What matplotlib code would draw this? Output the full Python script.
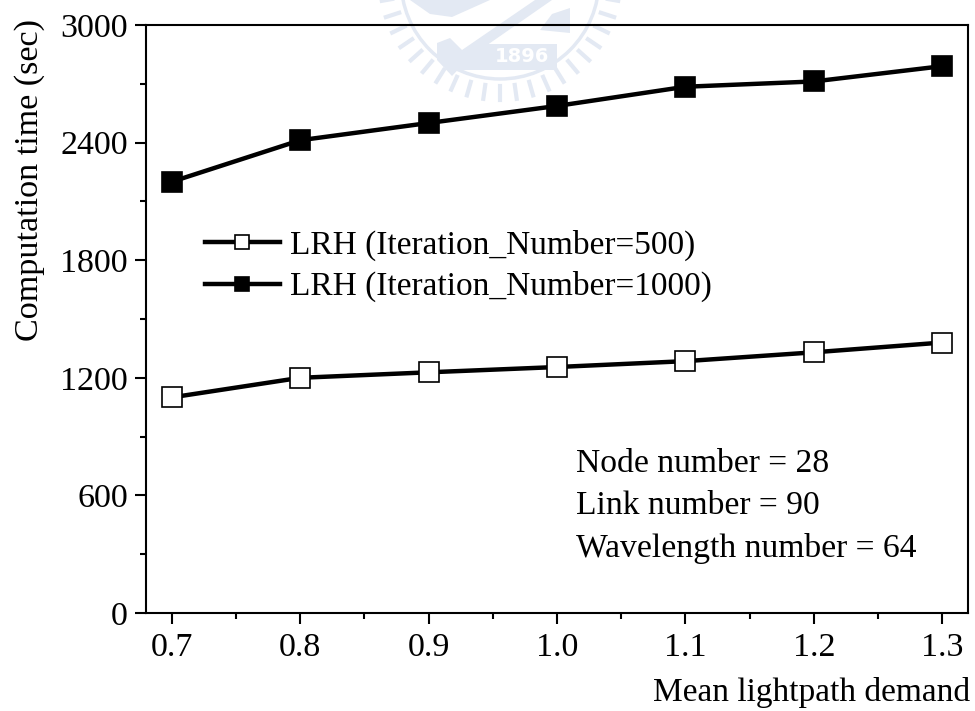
import math
import matplotlib
matplotlib.use('Agg')
import matplotlib.pyplot as plt
from matplotlib.patches import Circle, Polygon
from matplotlib.transforms import IdentityTransform

demand = [0.7, 0.8, 0.9, 1.0, 1.1, 1.2, 1.3]
iter_500 = [1100, 1200, 1228, 1255, 1285, 1330, 1380]
iter_1000 = [2200, 2412, 2500, 2587, 2685, 2712, 2790]
x_ticks = [0.7, 0.8, 0.9, 1.0, 1.1, 1.2, 1.3]
x_minor = [0.75, 0.85, 0.95, 1.05, 1.15, 1.25]
y_ticks = [0, 600, 1200, 1800, 2400, 3000]
y_minor = [300, 900, 1500, 2100, 2700]

W, H = 975, 711
plt.rcParams['font.family'] = ['Liberation Serif', 'DejaVu Serif']

fig = plt.figure(figsize=(W / 100, H / 100), dpi=100)
ax = fig.add_axes([146 / W, 1 - 613 / H, (968 - 146) / W, (613 - 25) / H])
ax.patch.set_alpha(0)

# watermark seal behind the axes, pixel coordinates from the top left
seal = '#e3e9f3'
cx, cy = 500, -20

def seal_poly(pts, color=seal):
    fig.add_artist(Polygon([(x, H - y) for x, y in pts], transform=IdentityTransform(),
                           facecolor=color, edgecolor='none', zorder=-5))

fig.add_artist(Circle((cx, H - cy), 99, transform=IdentityTransform(), fill=False,
                      edgecolor=seal, linewidth=2.5, zorder=-5))
for deg in range(10, 175, 8):
    a = math.radians(deg)
    c, s = math.cos(a), math.sin(a)
    fig.add_artist(plt.Line2D([cx + 106 * c, cx + 120 * c], [H - cy - 106 * s, H - cy - 120 * s],
                              transform=IdentityTransform(), color=seal, lw=3, zorder=-5))
seal_poly([(410, 0), (490, 0), (452, 17), (430, 14)])
seal_poly([(540, 30), (552, 14), (570, 8), (570, 33)])
seal_poly([(437, 43), (450, 38), (462, 50), (535, 0), (552, 0), (470, 57), (452, 76), (437, 60)])
seal_poly([(487, 44), (557, 44), (557, 70), (450, 70), (480, 48)])
fig.text(522 / W, 1 - 57 / H, '1896', color='white', fontsize=14, fontweight='bold',
         family='DejaVu Sans', ha='center', va='center', zorder=-4)

ax.plot(demand, iter_1000, color='black', lw=3.2, marker='s', ms=14, mfc='black', mec='black', mew=1.2,
        label='LRH (Iteration_Number=1000)', zorder=3)
ax.plot(demand, iter_500, color='black', lw=3.2, marker='s', ms=14, mfc='white', mec='black', mew=1.2,
        label='LRH (Iteration_Number=500)', zorder=3)

ax.set_xlim(0.68, 1.32)
ax.set_ylim(0, 3000)
ax.set_xticks(x_ticks)
ax.set_xticklabels(['%.1f' % v for v in x_ticks])
ax.set_xticks(x_minor, minor=True)
ax.set_yticks(y_ticks)
ax.set_yticks(y_minor, minor=True)
ax.tick_params(axis='both', which='major', length=8, width=1.5, labelsize=24.5)
ax.tick_params(axis='both', which='minor', length=4, width=1.5)
ax.tick_params(axis='x', which='major', pad=6)
ax.tick_params(axis='y', which='major', pad=5)
for s in ax.spines.values():
    s.set_linewidth(1.5)
ax.set_ylabel('Computation time (sec)', fontsize=24.6, y=(613 - 180) / 588, labelpad=11)
fig.text(970 / W, 1 - 693 / H, 'Mean lightpath demand', fontsize=24, ha='right', va='center')

h, l = ax.get_legend_handles_labels()
ax.legend(h[::-1], l[::-1], loc='upper left', bbox_to_anchor=(0.0716, 0.652), frameon=False, fontsize=24,
          labelspacing=0.31, handlelength=2.25, handletextpad=0.3, markerscale=0.68, borderpad=0, borderaxespad=0)

for txt, y in [('Node number = 28', 464), ('Link number = 90', 506), ('Wavelength number = 64', 549)]:
    fig.text(576 / W, 1 - y / H, txt, fontsize=24.2, ha='left', va='center')

fig.savefig('out.png', dpi=100)
